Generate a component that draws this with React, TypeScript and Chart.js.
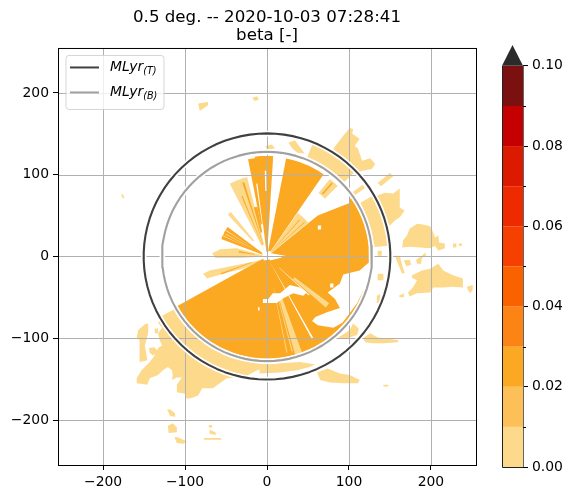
import React, { useEffect, useRef } from "react";
import { Chart, registerables } from "chart.js";

Chart.register(...registerables);

const FONT = "'DejaVu Sans'";
const TITLE_LINES = ["0.5 deg. -- 2020-10-03 07:28:41", "beta [-]"];
const AXIS_TICKS = [-200, -100, 0, 100, 200];
const AXIS_LIMIT = 255;

const BAND_LEVELS = [0, 0.01, 0.02, 0.03, 0.04, 0.05, 0.06, 0.07, 0.08, 0.09, 0.1];
const BAND_COLORS = ["#fdd98b", "#fdbf57", "#fba823", "#fb8414", "#fa6200", "#f64000", "#ee2a00", "#dc1a00", "#c40000", "#7a1010"];
const OVER_COLOR = "#2b2b2b";
const OVER_TIP = 0.1052;
const CBAR_MAJOR = [0, 0.02, 0.04, 0.06, 0.08, 0.1];
const CBAR_MINOR = [0.01, 0.03, 0.05, 0.07, 0.09];

const MLYR_TOP_RADIUS = 150.5;
const MLYR_BOTTOM_RADIUS = 128;
const MLYR_LABELS = [
  { base: "MLyr", sub: "(T)", color: "#404040" },
  { base: "MLyr", sub: "(B)", color: "#a0a0a0" },
];

type Pt = [number, number];

// Patches of the weakest class (km east, km north).
const LIGHT_BLOBS: Pt[][] = [
  [[165,11],[166,20],[171,26],[174,34],[183,40],[190,39],[199,37],[203,29],[205,23],[209,26],[210,17],[217,16],[217,10],[209,7],[205,13],[199,10],[187,11],[174,12]],
  [[177,-23],[189,-17],[199,-15],[209,-9],[215,-17],[227,-23],[239,-27],[239,-38],[226,-37],[215,-38],[203,-38],[199,-44],[183,-45],[174,-49],[172,-44],[178,-38],[183,-29],[177,-26]],
  [[156,1],[162,1],[165,-11],[168,-20],[165,-21],[159,-7]],
  [[167,-5],[174,-4],[176,-10],[170,-12]],
  [[182,-4],[189,1],[193,5],[194,1],[189,-2],[188,-9],[183,-9]],
  [[227,16],[231,16],[231,11],[227,11]],
  [[234,16],[238,16],[238,13],[234,13]],
  [[244,-37],[251,-35],[251,-41],[248,-45],[245,-41]],
  [[161,-48],[167,-45],[167,-50],[162,-50]],
  [[133,74],[144,78],[154,77],[162,83],[162,60],[168,56],[162,48],[156,44],[150,38],[144,41],[144,26],[135,20]],
  [[81,132],[95,150],[101,157],[105,156],[104,150],[113,144],[107,135],[111,132],[116,117],[126,120],[132,113],[128,107],[117,105],[107,102],[100,100]],
  [[135,90],[150,102],[154,98],[139,86]],
  [[-2,135],[6,137],[10,132],[0,131]],
  [[26,139],[34,142],[46,126],[37,127],[31,132]],
  [[-18,194],[-12,196],[-10,192],[-15,190]],
  [[-84,187],[-72,189],[-72,185],[-82,178]],
  [[-178,76],[-176,76],[-174,72],[-176,71]],
  [[-116,-66],[-127,-72],[-133,-81],[-128,-87],[-133,-94],[-131,-102],[-128,-109],[-133,-112],[-137,-121],[-143,-129],[-153,-139],[-159,-149],[-159,-155],[-146,-157],[-143,-149],[-133,-145],[-127,-139],[-121,-135],[-116,-139],[-115,-145],[-116,-151],[-110,-148],[-104,-148],[-110,-157],[-110,-166],[-100,-168],[-98,-174],[-92,-173],[-84,-170],[-79,-161],[-66,-161],[-49,-149],[-29,-148],[-12,-139],[1,-135],[0,-128],[-33,-124],[-64,-111],[-91,-91],[-111,-64]],
  [[-9,-133],[12,-131],[40,-129],[59,-132],[52,-135],[37,-139],[16,-142],[-9,-143]],
  [[-157,-90],[-149,-83],[-145,-82],[-145,-94],[-149,-109],[-146,-127],[-155,-129],[-156,-115],[-155,-102],[-159,-99]],
  [[-144,-112],[-137,-111],[-133,-117],[-139,-121],[-143,-118]],
  [[-137,-88],[-133,-88],[-133,-94],[-137,-94]],
  [[-122,-187],[-118,-187],[-112,-192],[-112,-196],[-118,-195]],
  [[-121,-207],[-115,-204],[-110,-209],[-110,-215],[-120,-216]],
  [[-113,-221],[-109,-221],[-98,-226],[-102,-229],[-110,-228]],
  [[-71,-206],[-67,-206],[-67,-209],[-71,-209]],
  [[-70,-212],[-63,-215],[-62,-218],[-70,-217]],
  [[-77,-222],[-56,-222],[-56,-224],[-77,-224]],
  [[87,-99],[101,-90],[105,-82],[112,-88],[110,-96],[98,-100],[89,-100]],
  [[117,-100],[126,-94],[135,-99],[160,-102],[160,-105],[142,-106],[129,-106],[120,-105]],
  [[61,-142],[74,-137],[89,-143],[101,-145],[113,-151],[111,-155],[93,-155],[77,-154],[65,-151]],
  [[135,7],[140,7],[140,1],[135,1]],
  [[135,-21],[142,-21],[142,-29],[135,-29]],
  [[134,-48],[138,-46],[138,-57],[134,-57]],
  [[142,-157],[148,-157],[148,-159],[142,-159]],
  [[-67,4],[-57,9],[-37,10],[0,0],[-33,-2],[-63,-2]],
  [[-78,-21],[-70,-17],[-5,-4],[-29,-15],[-49,-20],[-73,-27]],
];

// Radar sectors: azimuth from, azimuth to (degrees), range from, range to (km).
type Sector = [number, number, number, number];
const LIGHT_SECTORS: Sector[] = [
  [22, 46, 128, 150],
  [60, 85, 128, 150],
  [53, 55, 120, 146],
  [333, 346, 15, 100],
  [317, 321, 25, 70],
];
const ORANGE_SECTORS: Sector[] = [
  [51, 241, 0, 125],
  [11, 34.5, 0, 122],
  [-7, 3.5, 0, 123],
  [-11, -2, 40, 121],
  [291, 307, 5, 60],
  [345, 349, 30, 62],
];
const LIGHT_OVER_ORANGE: Sector[] = [
  [35, 51, 0, 65],
  [39, 45, 100, 122],
  [127, 131, 42, 95],
  [160, 164, 55, 130],
  [164.8, 165.5, 55, 120],
  [168, 168.6, 40, 120],
  [298, 299, 20, 58],
];
const ORANGE_STREAKS: Sector[] = [
  [341.5, 343, 15, 95],
  [337, 338, 10, 80],
  [41, 42, 8, 60],
  [47, 48, 8, 62],
  [41, 42, 102, 120],
  [248.5, 250, 20, 60],
  [278, 281, 15, 35],
];
const EMPTY_SECTORS: Sector[] = [
  [351.5, 352.5, 40, 90],
  [358.5, 359.5, 80, 105],
  [150.5, 151.5, 8, 115],
  [132, 133, 20, 70],
  [295, 295.6, 25, 60],
  [302, 302.6, 20, 60],
];
const EMPTY_PATCHES: Pt[][] = [
  [[62,50],[100,65],[106,85],[80,80],[62,60]],
  [[0,-54],[7,-45],[16,-45],[28,-35],[40,-38],[49,-44],[44,-48],[32,-45],[20,-51],[12,-57],[1,-57]],
  [[127,-5],[113,-17],[93,-22],[89,-33],[74,-44],[83,-52],[89,-63],[74,-68],[59,-74],[55,-79],[62,-84],[81,-87],[92,-81],[99,-72],[110,-57],[122,-33]],
  [[0,5],[22,1],[16,-2],[4,-5]],
  [[-11,-62],[-9,-62],[-9,-66],[-11,-66]],
  [[-5,-52],[0,-52],[0,-57],[-5,-57]],
  [[77,-33],[81,-33],[81,-38],[77,-38]],
  [[62,38],[66,38],[66,33],[62,33]],
  [[-6,4],[4,7],[6,-3],[-4,-5]],
];

const sectorShape = ([az0, az1, r0, r1]: Sector): Pt[] => {
  const outer: Pt[] = [];
  const inner: Pt[] = [];
  const steps = Math.max(1, Math.ceil((az1 - az0) / 2));
  for (let i = 0; i <= steps; i++) {
    const a = ((az0 + ((az1 - az0) * i) / steps) * Math.PI) / 180;
    outer.push([r1 * Math.sin(a), r1 * Math.cos(a)]);
    inner.unshift([r0 * Math.sin(a), r0 * Math.cos(a)]);
  }
  return [...outer, ...inner];
};

const ringShape = (r: number): Pt[] => {
  const pts: Pt[] = [];
  for (let a = 0; a <= 360; a += 4) pts.push([r * Math.sin((a * Math.PI) / 180), r * Math.cos((a * Math.PI) / 180)]);
  return pts;
};

const area = (shape: Pt[], color: string) => ({
  type: "scatter" as const,
  label: "",
  data: shape.map(([x, y]) => ({ x, y })),
  showLine: true,
  fill: "shape",
  backgroundColor: color,
  borderWidth: 0,
  pointRadius: 0,
  tension: 0,
});

const ring = (r: number, color: string, width: number, label: string) => ({
  type: "scatter" as const,
  label,
  data: ringShape(r).map(([x, y]) => ({ x, y })),
  showLine: true,
  fill: false,
  borderColor: color,
  borderWidth: width,
  borderJoinStyle: "round",
  pointRadius: 0,
  tension: 0,
});

const minus = (v: number) => String(v).replace("-", "\u2212");

export default function App() {
  const mainRef = useRef<HTMLCanvasElement>(null);
  const barRef = useRef<HTMLCanvasElement>(null);

  useEffect(() => {
    const LIGHT = BAND_COLORS[0];
    const ORANGE = BAND_COLORS[2];
    const painted = [
      ...LIGHT_BLOBS.map((s) => area(s, LIGHT)),
      ...LIGHT_SECTORS.map((s) => area(sectorShape(s), LIGHT)),
      ...ORANGE_SECTORS.map((s) => area(sectorShape(s), ORANGE)),
      ...LIGHT_OVER_ORANGE.map((s) => area(sectorShape(s), LIGHT)),
      ...ORANGE_STREAKS.map((s) => area(sectorShape(s), ORANGE)),
      ...EMPTY_SECTORS.map((s) => area(sectorShape(s), "#ffffff")),
      ...EMPTY_PATCHES.map((s) => area(s, "#ffffff")),
      ring(MLYR_TOP_RADIUS, "#ffffff", 5.5, "halo-top"),
      ring(MLYR_TOP_RADIUS, MLYR_LABELS[0].color, 2.1, "top"),
      ring(MLYR_BOTTOM_RADIUS, "#ffffff", 5.5, "halo-bottom"),
      ring(MLYR_BOTTOM_RADIUS, MLYR_LABELS[1].color, 2.1, "bottom"),
    ];

    const framePlugin = {
      id: "frame",
      beforeDatasetDraw(chart: any, args: any) {
        if (chart.data.datasets[args.index].label !== "halo-top") return;
        const { ctx, chartArea: a, scales } = chart;
        ctx.save();
        ctx.strokeStyle = "#b0b0b0";
        ctx.lineWidth = 1;
        ctx.beginPath();
        for (const t of AXIS_TICKS) {
          const px = Math.round(scales.x.getPixelForValue(t)) + 0.5;
          const py = Math.round(scales.y.getPixelForValue(t)) + 0.5;
          ctx.moveTo(px, a.top);
          ctx.lineTo(px, a.bottom);
          ctx.moveTo(a.left, py);
          ctx.lineTo(a.right, py);
        }
        ctx.stroke();
        ctx.restore();
      },
      afterDraw(chart: any) {
        const { ctx, chartArea: a } = chart;
        ctx.save();
        // legend box
        const box = { x: a.left + 8, y: a.top + 7.5, w: 98, h: 54 };
        ctx.beginPath();
        ctx.roundRect(box.x, box.y, box.w, box.h, 3);
        ctx.fillStyle = "rgba(255,255,255,0.8)";
        ctx.fill();
        ctx.strokeStyle = "rgba(204,204,204,0.8)";
        ctx.lineWidth = 1;
        ctx.stroke();
        MLYR_LABELS.forEach((item, i) => {
          const y = box.y + 12 + i * 25;
          ctx.strokeStyle = item.color;
          ctx.lineWidth = 2;
          ctx.beginPath();
          ctx.moveTo(box.x + 4, y);
          ctx.lineTo(box.x + 33, y);
          ctx.stroke();
          ctx.fillStyle = "#000";
          ctx.textBaseline = "alphabetic";
          ctx.textAlign = "left";
          ctx.font = `italic 13.9px ${FONT}`;
          ctx.fillText(item.base, box.x + 44, y + 4);
          const w = ctx.measureText(item.base).width;
          ctx.font = `italic 9.7px ${FONT}`;
          ctx.fillText(item.sub, box.x + 44 + w, y + 7);
        });
        // spines
        ctx.strokeStyle = "#000";
        ctx.lineWidth = 1;
        ctx.strokeRect(a.left + 0.5, a.top + 0.5, a.right - a.left, a.bottom - a.top);
        ctx.restore();
      },
    };

    const mainChart = new Chart(mainRef.current!, {
      type: "scatter",
      data: { datasets: [...painted].reverse() as any },
      plugins: [framePlugin],
      options: {
        responsive: false,
        animation: false,
        layout: { padding: { left: 0, right: 57, top: 0, bottom: 0 } },
        plugins: {
          legend: { display: false },
          tooltip: { enabled: false },
          title: {
            display: true,
            fullSize: false,
            text: TITLE_LINES,
            color: "#000",
            font: { family: FONT, size: 16.67, weight: "normal", lineHeight: 1.1 },
            padding: { top: 8, bottom: 3.3 },
          },
        },
        scales: {
          x: {
            type: "linear",
            min: -AXIS_LIMIT,
            max: AXIS_LIMIT,
            afterFit: (s: any) => { s.height = 34; },
            afterBuildTicks: (s: any) => { s.ticks = AXIS_TICKS.map((value) => ({ value })); },
            border: { display: false },
            grid: { drawOnChartArea: false, tickColor: "#000", tickLength: 5, tickWidth: 1 },
            ticks: { color: "#000", padding: 4, maxRotation: 0, font: { family: FONT, size: 13.9 }, callback: (v: any) => minus(v) },
          },
          y: {
            type: "linear",
            min: -AXIS_LIMIT,
            max: AXIS_LIMIT,
            afterFit: (s: any) => { s.width = 58; },
            afterBuildTicks: (s: any) => { s.ticks = AXIS_TICKS.map((value) => ({ value })); },
            border: { display: false },
            grid: { drawOnChartArea: false, tickColor: "#000", tickLength: 5, tickWidth: 1 },
            ticks: { color: "#000", padding: 4, font: { family: FONT, size: 13.9 }, callback: (v: any) => minus(v) },
          },
        },
      } as any,
    });

    const bandSets = BAND_COLORS.map((color, i) =>
      area(
        [[0, BAND_LEVELS[i]], [1, BAND_LEVELS[i]], [1, BAND_LEVELS[i + 1]], [0, BAND_LEVELS[i + 1]]],
        color,
      ),
    );
    const top = BAND_LEVELS[BAND_LEVELS.length - 1];
    const overSet = area([[0, top], [0.5, OVER_TIP], [1, top]], OVER_COLOR);

    const barPlugin = {
      id: "barFrame",
      afterDraw(chart: any) {
        const { ctx, chartArea: a, scales } = chart;
        const topY = scales.y.getPixelForValue(top);
        ctx.save();
        ctx.lineWidth = 1;
        ctx.strokeStyle = "#222";
        ctx.beginPath();
        ctx.moveTo(a.left + 0.5, topY);
        ctx.lineTo(a.left + 0.5, a.bottom + 0.5);
        ctx.lineTo(a.right + 0.5, a.bottom + 0.5);
        ctx.stroke();
        ctx.strokeStyle = "#666";
        ctx.beginPath();
        ctx.moveTo(a.right + 0.5, a.bottom);
        ctx.lineTo(a.right + 0.5, topY);
        ctx.stroke();
        ctx.strokeStyle = "#000";
        for (const m of CBAR_MINOR) {
          const y = Math.round(scales.y.getPixelForValue(m)) + 0.5;
          ctx.beginPath();
          ctx.moveTo(a.right, y);
          ctx.lineTo(a.right + 3, y);
          ctx.stroke();
        }
        ctx.restore();
      },
    };

    const barChart = new Chart(barRef.current!, {
      type: "scatter",
      data: { datasets: [overSet, ...bandSets].reverse() as any },
      plugins: [barPlugin],
      options: {
        responsive: false,
        animation: false,
        layout: { padding: { left: 22, right: 0, top: 45, bottom: 32 } },
        plugins: { legend: { display: false }, tooltip: { enabled: false }, title: { display: false } },
        scales: {
          x: { type: "linear", display: false, min: 0, max: 1 },
          y: {
            type: "linear",
            position: "right",
            min: 0,
            max: OVER_TIP,
            afterFit: (s: any) => { s.width = 50; },
            afterBuildTicks: (s: any) => { s.ticks = CBAR_MAJOR.map((value) => ({ value })); },
            border: { display: false },
            grid: { drawOnChartArea: false, tickColor: "#000", tickLength: 5, tickWidth: 1 },
            ticks: { color: "#000", padding: 4, font: { family: FONT, size: 13.9 }, callback: (v: any) => Number(v).toFixed(2) },
          },
        },
      } as any,
    });

    return () => {
      mainChart.destroy();
      barChart.destroy();
    };
  }, []);

  return (
    <div style={{ position: "fixed", left: 0, top: 0, width: 573, height: 499, background: "#fff", overflow: "hidden" }}>
      <canvas ref={mainRef} width={533} height={499} style={{ position: "absolute", left: 0, top: 0 }} />
      <canvas ref={barRef} width={93} height={499} style={{ position: "absolute", left: 480, top: 0 }} />
    </div>
  );
}
